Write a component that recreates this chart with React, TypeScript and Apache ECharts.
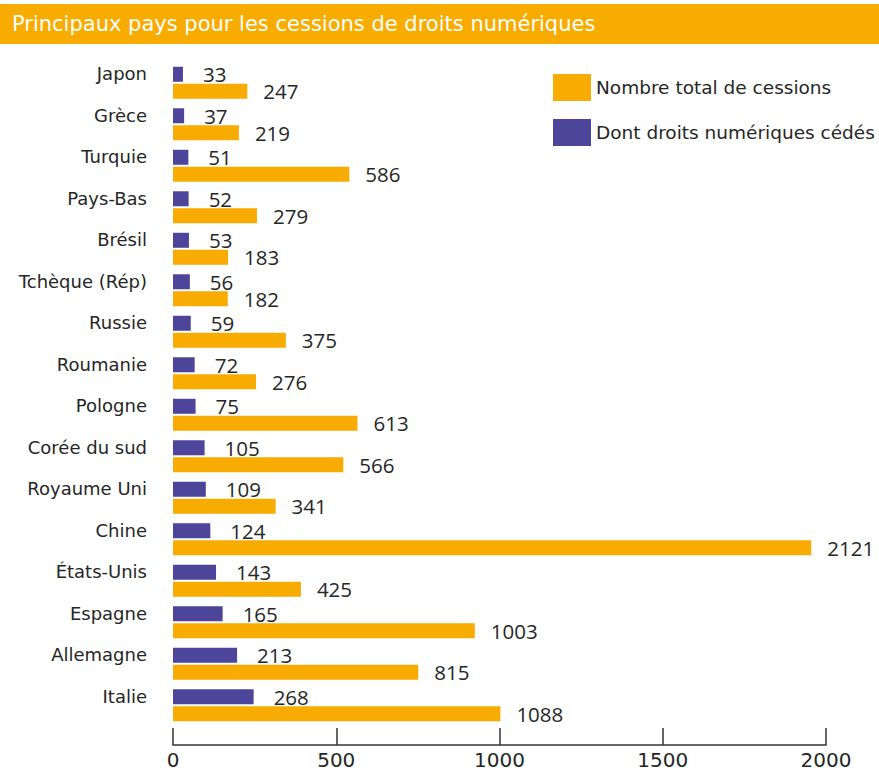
import React, { useEffect, useRef } from "react";
import * as echarts from "echarts";

const title = "Principaux pays pour les cessions de droits numériques";
const countries = [
  "Japon",
  "Grèce",
  "Turquie",
  "Pays-Bas",
  "Brésil",
  "Tchèque (Rép)",
  "Russie",
  "Roumanie",
  "Pologne",
  "Corée du sud",
  "Royaume Uni",
  "Chine",
  "États-Unis",
  "Espagne",
  "Allemagne",
  "Italie",
];
const digitalRights = [33, 37, 51, 52, 53, 56, 59, 72, 75, 105, 109, 124, 143, 165, 213, 268];
const totalCessions = [247, 219, 586, 279, 183, 182, 375, 276, 613, 566, 341, 2121, 425, 1003, 815, 1088];
const seriesNames = ["Nombre total de cessions", "Dont droits numériques cédés"];
const axisMin = 0;
const axisMax = 2000;
const axisInterval = 500;
const barScaleMax = 2170;

const ORANGE = "#F8AB00";
const PURPLE = "#4D4599";
const TEXT = "#262626";
const FONT = "'DejaVu Sans', 'Open Sans', sans-serif";
const VALUE_FONT = "'Open Sans', 'DejaVu Sans', sans-serif";

export default function App() {
  const ref = useRef<HTMLDivElement>(null);
  useEffect(() => {
    document.body.style.margin = "0";
    if (!ref.current) return;
    const chart = echarts.init(ref.current, undefined, { renderer: "svg" });
    chart.setOption({
      animation: false,
      backgroundColor: "#ffffff",
      textStyle: { fontFamily: FONT },
      graphic: [
        {
          type: "rect",
          shape: { x: 0, y: 4, width: 879, height: 40 },
          style: { fill: ORANGE },
          silent: true,
        },
        {
          type: "text",
          x: 12,
          y: 24,
          style: {
            text: title,
            fill: "#ffffff",
            font: `normal 21px ${FONT}`,
            verticalAlign: "middle",
          },
          silent: true,
        },
      ],
      legend: {
        orient: "vertical",
        left: 553,
        top: 74,
        padding: 0,
        itemWidth: 38,
        itemHeight: 27,
        itemGap: 18,
        icon: "rect",
        data: seriesNames,
        textStyle: { fontSize: 18.5, color: TEXT, fontFamily: FONT },
      },
      grid: { left: 173, right: 53, top: 62, height: 664, containLabel: false },
      yAxis: {
        type: "category",
        data: countries,
        inverse: true,
        axisLine: { show: false },
        axisTick: { show: false },
        axisLabel: {
          fontSize: 18,
          color: TEXT,
          fontFamily: FONT,
          margin: 26,
          verticalAlign: "bottom",
          lineHeight: 18,
        },
      },
      xAxis: [
        {
          type: "value",
          min: axisMin,
          max: axisMax,
          interval: axisInterval,
          position: "bottom",
          offset: 19,
          splitLine: { show: false },
          axisLine: { show: true, lineStyle: { color: "#333", width: 1.5 } },
          axisTick: { show: true, inside: true, length: 17, lineStyle: { color: "#333", width: 1.5 } },
          axisLabel: {
            fontSize: 20,
            color: TEXT,
            margin: 5,
            fontFamily: FONT,
            formatter: (v: number) => String(v),
          },
        },
        {
          type: "value",
          min: 0,
          max: barScaleMax,
          show: false,
        },
      ],
      series: [
        {
          name: seriesNames[1],
          type: "bar",
          xAxisIndex: 1,
          data: digitalRights,
          barWidth: 15,
          barGap: "13%",
          itemStyle: { color: PURPLE },
          label: {
            show: true,
            position: "right",
            distance: 20,
            fontSize: 20.5,
            color: TEXT,
            fontFamily: VALUE_FONT,
          },
        },
        {
          name: seriesNames[0],
          type: "bar",
          xAxisIndex: 1,
          data: totalCessions,
          barWidth: 15,
          barGap: "13%",
          itemStyle: { color: ORANGE },
          label: {
            show: true,
            position: "right",
            distance: 16,
            fontSize: 20.5,
            color: TEXT,
            fontFamily: VALUE_FONT,
          },
        },
      ],
    });
    return () => chart.dispose();
  }, []);
  return <div ref={ref} style={{ width: 879, height: 772 }} />;
}
